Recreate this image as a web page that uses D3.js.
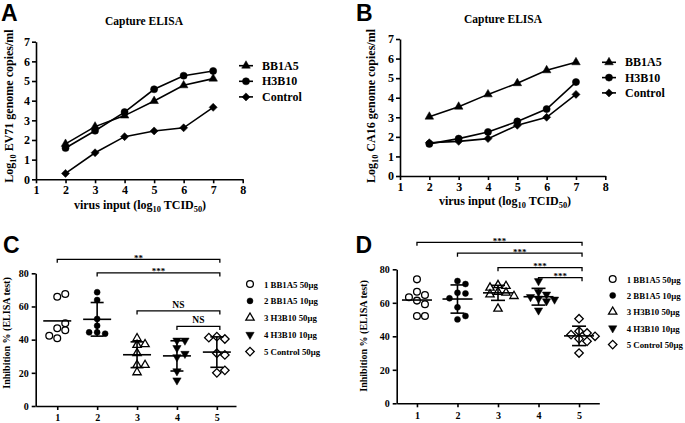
<!DOCTYPE html>
<html>
<head>
<meta charset="utf-8">
<script src="https://cdn.jsdelivr.net/npm/d3@7"></script>
<style>
  body { margin: 0; background: #fff; }
  svg text { font-family: 'Liberation Serif', 'Times New Roman', serif; font-weight: bold; fill: #000; }
  svg text.letter { font-family: 'Liberation Sans', Arial, sans-serif; }
</style>
</head>
<body>
<svg id="fig" width="685" height="423"></svg>
<script>
// ---- data ----
// panels A/B: virus input (log10 TCID50) vs log10 genome copies/ml
const doses = [2, 3, 4, 5, 6, 7];
const xTicksAB = [1, 2, 3, 4, 5, 6, 7, 8];
const yTicksAB = [0, 1, 2, 3, 4, 5, 6, 7];
const seriesNames = ['BB1A5', 'H3B10', 'Control'];

const ev71BB1A5 = [1.8, 2.68, 3.24, 3.98, 4.78, 5.12];
const ev71H3B10 = [1.59, 2.47, 3.42, 4.58, 5.27, 5.51];
const ev71Control = [0.3, 1.35, 2.17, 2.46, 2.62, 3.66];

const ca16BB1A5 = [3.03, 3.54, 4.17, 4.74, 5.40, 5.81];
const ca16H3B10 = [1.64, 1.91, 2.25, 2.79, 3.42, 4.80];
const ca16Control = [1.70, 1.77, 1.91, 2.59, 3.0, 4.17];

// panels C/D: inhibition % (ELISA test) per group
const groupTicks = [1, 2, 3, 4, 5];
const yTicksCD = [0, 20, 40, 60, 80];
const groupNames = ['1 BB1A5 50μg', '2 BB1A5 10μg', '3 H3B10 50μg', '4 H3B10 10μg', '5 Control 50μg'];

const cGroup1 = [65.9, 67.5, 46.9, 45.7, 49.9, 40.8, 42.4];
const cGroup2 = [68.6, 63.9, 52.5, 48.4, 44.4, 43.6, 44.4];
const cGroup3 = [40.8, 37.2, 36.8, 31.8, 24.7, 24.7, 20.3];
const cGroup4 = [39.5, 39.5, 35, 31.5, 29.5, 21, 15.5];
const cGroup5 = [41.8, 40.4, 41.2, 31.8, 30.8, 20, 21.5];

const dGroup1 = [74, 66.6, 64.7, 63.3, 61.3, 59.1, 52.1, 52.1];
const dGroup2 = [73, 71.2, 66, 65.6, 62.7, 57.3, 50.1, 52.1];
const dGroup3 = [70.5, 70, 69, 66.5, 66, 65, 64, 56.5];
const dGroup4 = [73, 66.5, 65, 63.5, 62.5, 62, 61, 55.5];
const dGroup5 = [50.5, 43, 42, 41, 40, 38.5, 37, 30];

// significance brackets: [from group, to group, height (% units), label]
const cBrackets = [[1, 5, 88.4, '**'], [2, 5, 80.2, '***'], [3, 5, 57.3, 'NS'], [4, 5, 48, 'NS']];
const dBrackets = [[1, 5, 96.1, '***'], [2, 5, 89.6, '***'], [3, 5, 81, '***'], [4, 5, 75, '***']];

// ---- drawing ----
const svg = d3.select('#fig');
const intFmt = d3.format('d');

function styleAxis(g, fontSize) {
  g.attr('font-size', fontSize);
  g.select('.domain').attr('stroke-width', 1.6);
  g.selectAll('.tick line').attr('stroke-width', 1.6);
}

function drawMarker(g, shape, cx, cy, filled, size) {
  const sym = {circle: d3.symbolCircle, triangle: d3.symbolTriangle, down: d3.symbolTriangle, diamond: d3.symbolSquare}[shape];
  const rot = shape === 'down' ? 180 : shape === 'diamond' ? 45 : 0;
  g.append('path')
    .attr('d', d3.symbol(sym, size)())
    .attr('transform', `translate(${cx},${cy}) rotate(${rot})`)
    .attr('fill', filled ? '#000' : 'none')
    .attr('stroke', '#000')
    .attr('stroke-width', filled ? 0.5 : 1.3);
}

// text with subscripts; parts = [[text, isSub], ...]
function richText(g, parts, attrs, size) {
  const t = g.append('text').attr('font-size', size);
  Object.entries(attrs).forEach(([k, v]) => t.attr(k, v));
  let shifted = false;
  parts.forEach(([s, sub]) => {
    const ts = t.append('tspan').text(s);
    if (sub && !shifted) { ts.attr('font-size', size * 0.7).attr('dy', size * 0.28); shifted = true; }
    else if (!sub && shifted) { ts.attr('dy', -size * 0.28); shifted = false; }
  });
  return t;
}

function linePanel(p) {
  const x = d3.scaleLinear().domain([1, 8]).range([p.left, p.right]);
  const y = d3.scaleLinear().domain([0, 7]).range([p.bottom, p.top]);
  const g = svg.append('g');

  g.append('g').attr('transform', `translate(0,${p.bottom})`)
    .call(d3.axisBottom(x).tickValues(xTicksAB).tickFormat(intFmt).tickSize(4).tickSizeOuter(0).tickPadding(2))
    .call(styleAxis, 12);
  g.append('g').attr('transform', `translate(${p.left},0)`)
    .call(d3.axisLeft(y).tickValues(yTicksAB).tickFormat(intFmt).tickSize(4).tickSizeOuter(0).tickPadding(2))
    .call(styleAxis, 12);

  const line = d3.line().x((d, i) => x(doses[i])).y(d => y(d));
  p.series.forEach((vals, si) => {
    g.append('path').attr('d', line(vals))
      .attr('fill', 'none').attr('stroke', '#000').attr('stroke-width', 1.6);
    vals.forEach((v, i) => drawMarker(g, p.shapes[si], x(doses[i]), y(v), true, p.sizes[si]));
  });

  // legend
  seriesNames.forEach((name, i) => {
    const ly = p.legY + i * p.legStep;
    g.append('line').attr('x1', p.legX - 7).attr('x2', p.legX + 7).attr('y1', ly).attr('y2', ly)
      .attr('stroke', '#000').attr('stroke-width', 1.6);
    drawMarker(g, p.shapes[i], p.legX, ly, true, p.sizes[i]);
    g.append('text').attr('x', p.legX + 16).attr('y', ly + 4).attr('font-size', 12).text(name);
  });

  g.append('text').attr('x', p.titleX).attr('y', p.titleY).attr('text-anchor', 'middle')
    .attr('font-size', 11.5).text('Capture ELISA');
  richText(g, [['virus input (log', false], ['10', true], [' TCID', false], ['50', true], [')', false]],
    {x: p.xLabX, y: p.xLabY, 'text-anchor': 'middle'}, 12);
  richText(g, [['Log', false], ['10', true], [' ' + p.virus + ' genome copies/ml', false]],
    {'text-anchor': 'middle', transform: `translate(${p.yLabX},${p.yLabY}) rotate(-90)`}, 12);
  g.append('text').attr('class', 'letter').attr('x', p.letterX).attr('y', p.letterY)
    .attr('font-size', 23).text(p.letter);
}

// simple dodge so that overlapping points spread sideways
function dodge(vals, y, minDist) {
  const placed = [];
  return vals.map(v => {
    const py = y(v);
    for (const s of [0, 1, -1, 2, -2, 3, -3]) {
      if (!placed.some(q => q.s === s && Math.abs(q.py - py) < minDist)) {
        placed.push({s, py});
        return s;
      }
    }
    return 0;
  });
}

const groupShapes = ['circle', 'circle', 'triangle', 'down', 'diamond'];
const groupFilled = [false, true, false, true, false];
const groupSizes = [36, 28, 30, 30, 36];

function scatterPanel(p) {
  const x = d3.scaleLinear().domain(p.xDomain).range([p.left, p.right]);
  const y = d3.scaleLinear().domain([0, 80]).range([p.bottom, p.top]);
  const g = svg.append('g');

  g.append('g').attr('transform', `translate(0,${p.bottom})`)
    .call(d3.axisBottom(x).tickValues(groupTicks).tickFormat(intFmt).tickSize(4).tickSizeOuter(0).tickPadding(p.xPad))
    .call(styleAxis, 10);
  g.append('g').attr('transform', `translate(${p.left},0)`)
    .call(d3.axisLeft(y).tickValues(yTicksCD).tickFormat(intFmt).tickSize(4).tickSizeOuter(0).tickPadding(3))
    .call(styleAxis, 10);

  p.groups.forEach((vals, gi) => {
    const cx = x(groupTicks[gi]);
    const slots = dodge(vals, y, 6);
    vals.forEach((v, k) => drawMarker(g, groupShapes[gi], cx + slots[k] * 8, y(v), groupFilled[gi], groupSizes[gi]));
    const m = d3.mean(vals), sd = d3.deviation(vals);
    const seg = (x1, y1, x2, y2) => g.append('line').attr('x1', x1).attr('y1', y1).attr('x2', x2).attr('y2', y2)
      .attr('stroke', '#000').attr('stroke-width', 1.6);
    seg(cx - p.meanHalf, y(m), cx + p.meanHalf, y(m));
    if (gi > 0) {
      seg(cx, y(m - sd), cx, y(m + sd));
      seg(cx - p.capHalf, y(m + sd), cx + p.capHalf, y(m + sd));
      seg(cx - p.capHalf, y(m - sd), cx + p.capHalf, y(m - sd));
    }
  });

  p.brackets.forEach(([a, b, h, label]) => {
    const x1 = x(a), x2 = x(b) + 3, by = y(h);
    g.append('path').attr('d', `M${x1},${by + 3.5}V${by}H${x2}V${by + 3.5}`)
      .attr('fill', 'none').attr('stroke', '#000').attr('stroke-width', 1.3);
    const stars = label.startsWith('*');
    g.append('text').attr('x', (x1 + x2) / 2).attr('y', stars ? by + 1.5 : by - 3)
      .attr('text-anchor', 'middle').attr('font-size', stars ? 9 : 9.5).text(label);
  });

  groupNames.forEach((name, i) => {
    const ly = p.legY + i * p.legStep;
    drawMarker(g, groupShapes[i], p.legX, ly, groupFilled[i], groupSizes[i]);
    g.append('text').attr('x', p.legX + 14).attr('y', ly + 3.5).attr('font-size', 8.8).text(name);
  });

  g.append('text').attr('text-anchor', 'middle').attr('font-size', 10)
    .attr('transform', `translate(${p.yLabX},${p.yLabY}) rotate(-90)`).text('Inhibition % (ELISA test)');
  g.append('text').attr('class', 'letter').attr('x', p.letterX).attr('y', p.letterY)
    .attr('font-size', 23).text(p.letter);
}

linePanel({
  letter: 'A', letterX: 1, letterY: 21, virus: 'EV71',
  left: 36, right: 242.7, top: 41.7, bottom: 179.3,
  series: [ev71BB1A5, ev71H3B10, ev71Control],
  shapes: ['triangle', 'circle', 'diamond'], sizes: [32, 40, 32],
  legX: 246, legY: 65.7, legStep: 15.6,
  titleX: 144, titleY: 25, xLabX: 140, xLabY: 209, yLabX: 12.5, yLabY: 106
});

linePanel({
  letter: 'B', letterX: 356, letterY: 21, virus: 'CA16',
  left: 400, right: 605.3, top: 39, bottom: 176,
  series: [ca16BB1A5, ca16H3B10, ca16Control],
  shapes: ['triangle', 'circle', 'diamond'], sizes: [32, 40, 32],
  legX: 609, legY: 62.3, legStep: 15.3,
  titleX: 503, titleY: 23, xLabX: 505, xLabY: 205, yLabX: 375, yLabY: 106
});

scatterPanel({
  letter: 'C', letterX: 3, letterY: 253,
  left: 35.7, right: 236, top: 273.3, bottom: 406, xDomain: [0.46, 5.48], xPad: 3.7,
  groups: [cGroup1, cGroup2, cGroup3, cGroup4, cGroup5], brackets: cBrackets,
  meanHalf: 14, capHalf: 6.5,
  legX: 250, legY: 284, legStep: 16.9, yLabX: 9.5, yLabY: 333
});

scatterPanel({
  letter: 'D', letterX: 355.5, letterY: 253,
  left: 396.7, right: 599.3, top: 269.3, bottom: 403.3, xDomain: [0.5, 5.5], xPad: 5,
  groups: [dGroup1, dGroup2, dGroup3, dGroup4, dGroup5], brackets: dBrackets,
  meanHalf: 15, capHalf: 7,
  legX: 612.7, legY: 279, legStep: 16.4, yLabX: 366.5, yLabY: 336
});
</script>
</body>
</html>
